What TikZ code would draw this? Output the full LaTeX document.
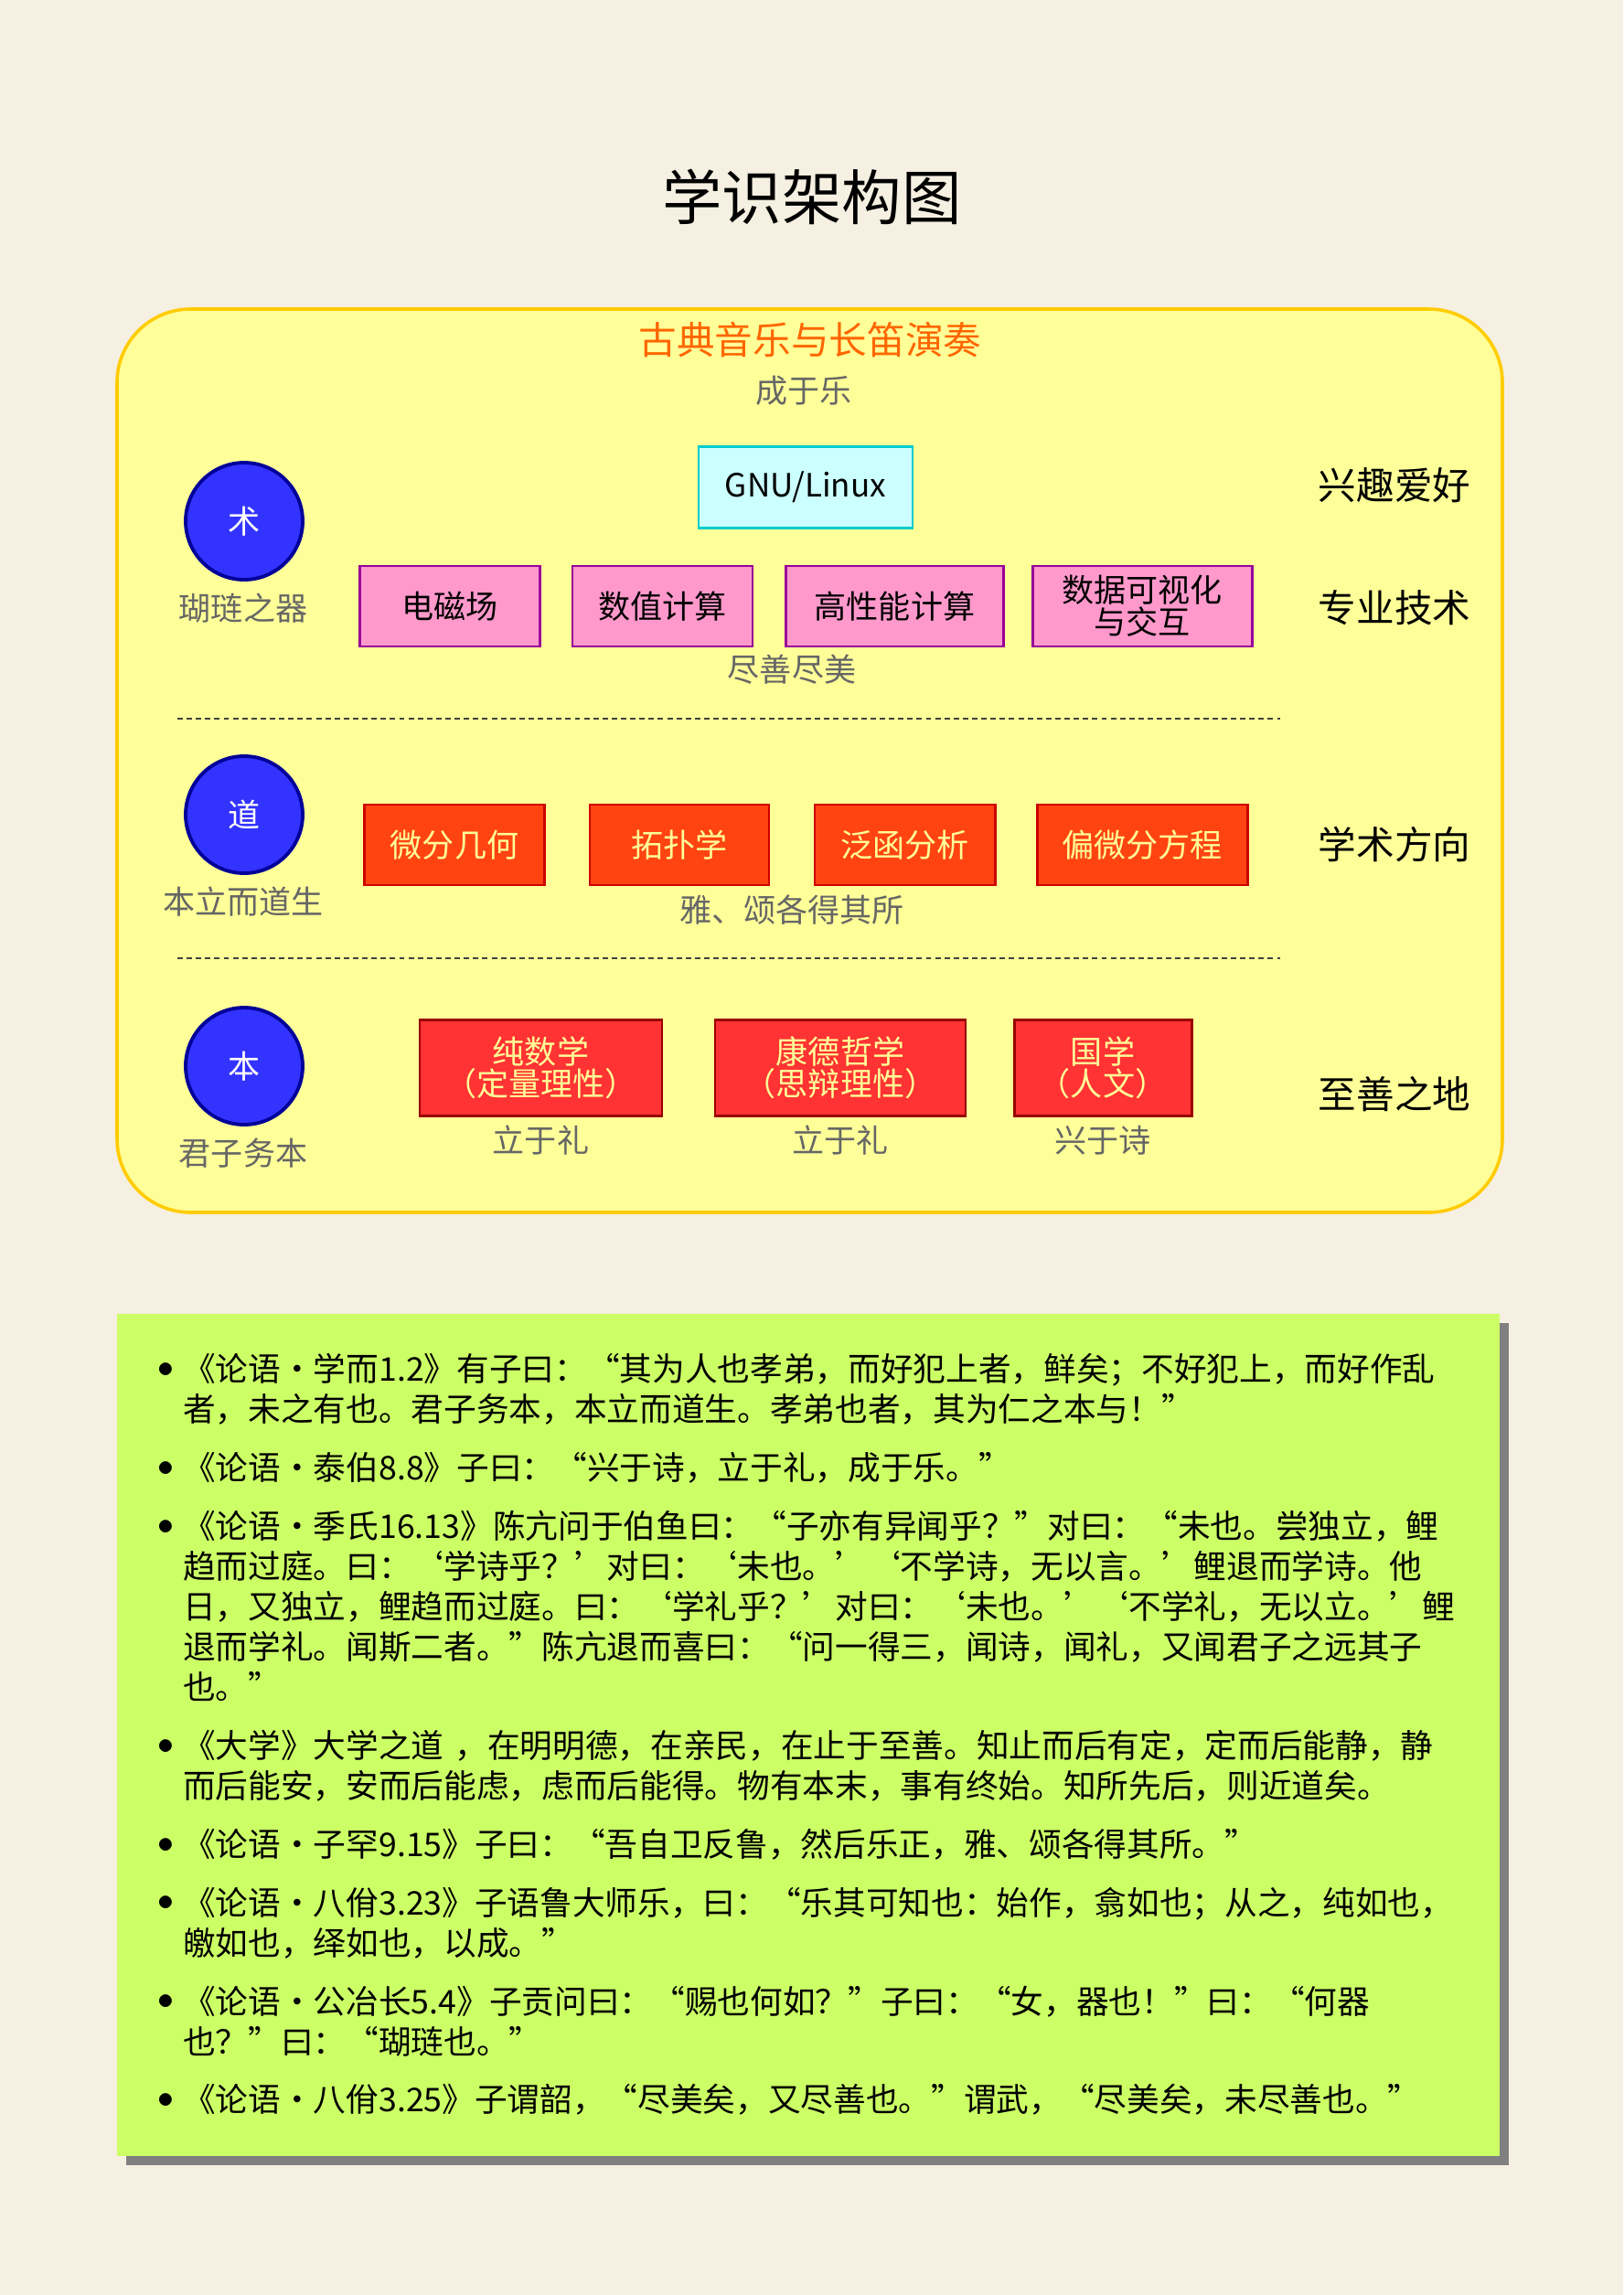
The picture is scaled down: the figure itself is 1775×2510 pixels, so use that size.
\documentclass[tikz,border=0pt]{standalone}
\usepackage{fontspec}
\setmainfont{Noto Sans CJK SC}
\XeTeXlinebreaklocale "zh"
\XeTeXlinebreakskip=0pt plus 1pt

\definecolor{paper}{HTML}{F5F0E1}
\definecolor{panel}{HTML}{FFFF99}
\definecolor{panelrim}{HTML}{FFCC00}
\definecolor{notebg}{HTML}{CCFF66}
\definecolor{dotblue}{HTML}{3333FF}
\definecolor{dotrim}{HTML}{000099}
\definecolor{pinkfill}{HTML}{FF99CC}
\definecolor{pinkrim}{HTML}{990099}
\definecolor{cyanfill}{HTML}{CCFFFF}
\definecolor{cyanrim}{HTML}{00CCCC}
\definecolor{orangefill}{HTML}{FF4411}
\definecolor{orangerim}{HTML}{CC0000}
\definecolor{redfill}{HTML}{FF3333}
\definecolor{redrim}{HTML}{990000}
\definecolor{boxtext}{HTML}{FFFF99}
\definecolor{notegray}{HTML}{666666}
\definecolor{headorange}{HTML}{FF6600}

\newcommand{\px}{0.011831cm}
\newcommand{\sz}[1]{\fontsize{#1}{#1}\selectfont}

\begin{document}
\begin{tikzpicture}[x=0.011831cm, y=-0.011831cm,
  every node/.style={inner sep=0pt},
  topicbox/.style={rectangle, draw, line width=1pt, minimum height=88*\px, align=center, font=\sz{11.8pt}},
  hobbybox/.style={topicbox, fill=cyanfill, draw=cyanrim},
  skillbox/.style={topicbox, fill=pinkfill, draw=pinkrim},
  fieldbox/.style={topicbox, fill=orangefill, draw=orangerim, text=boxtext},
  rootbox/.style={topicbox, fill=redfill, draw=redrim, text=boxtext, minimum height=105*\px},
  dot/.style={circle, fill=dotblue, draw=dotrim, line width=1.3pt, minimum size=128*\px, text=white, font=\sz{11.8pt}},
  note/.style={text=notegray, font=\sz{11.8pt}},
  tier/.style={font=\sz{14pt}},
  sep/.style={black!75, line width=0.4pt, dash pattern=on 2pt off 1.4pt}]

\useasboundingbox[fill=paper] (0,0) rectangle (1775,2510);

\node[font=\sz{22pt}] (title) at (888,215) {学识架构图};

% the yellow panel
\draw[panelrim, fill=panel, line width=1.2pt, rounded corners=0.95cm] (128,338) rectangle (1643,1326);
\node[tier, text=headorange] (music) at (886,372) {古典音乐与长笛演奏};
\node[note] (musicnote) at (879,427) {成于乐};

% levels on the left
\foreach \y/\c/\l [count=\i] in {570/术/瑚琏之器, 891/道/本立而道生, 1166/本/君子务本} {
  \node[dot] (level\i) at (267,\y) {\c};
  \node[note] (levelnote\i) at (266,\y+95) {\l};
}

% tiers on the right
\foreach \y/\l [count=\i] in {531/兴趣爱好, 665/专业技术, 924/学术方向, 1197/至善之地} {
  \node[tier] (tier\i) at (1525,\y) {\l};
}

\node[hobbybox, minimum width=234*\px, minimum height=89*\px] (gnu) at (881,533) {GNU/Linux};

\foreach \x/\w/\lbl [count=\i] in {492/197/电磁场, 724.5/197/数值计算, 978.5/238/高性能计算, 1249/240/{数据可视化\\与交互}} {
  \node[skillbox, minimum width=\w*\px] (skill\i) at (\x,663) {\lbl};
}
\node[note] (skillnote) at (866,732) {尽善尽美};

\draw[sep] (194,786) -- (1400,786);

\foreach \x/\w/\lbl [count=\i] in {497/197/微分几何, 743/196/拓扑学, 989.5/197/泛函分析, 1249/230/偏微分方程} {
  \node[fieldbox, minimum width=\w*\px] (field\i) at (\x,924) {\lbl};
}
\node[note] (fieldnote) at (866,995) {雅、颂各得其所};

\draw[sep] (194,1048) -- (1400,1048);

\foreach \x/\w/\lbl/\n [count=\i] in {591.5/265/{纯数学\\（定量理性）}/立于礼, 919/274/{康德哲学\\（思辩理性）}/立于礼, 1206/194/{国学\\（人文）}/兴于诗} {
  \node[rootbox, minimum width=\w*\px] (root\i) at (\x,1168) {\lbl};
  \node[note] (rootnote\i) at (\x,1247) {\n};
}

% the green sheet with its shadow
\fill[black!50] (138,1447) rectangle (1650,2368);
\fill[notebg] (128,1437) rectangle (1640,2358);

\node[text width=1440*\px, anchor=base west, align=left, font=\fontsize{12pt}{14.8pt}\selectfont] (analects) at (170,1443) {%
  \setlength{\leftmargini}{10pt}\setlength{\labelsep}{3.5pt}%
  \renewcommand{\labelitemi}{\raisebox{0.12em}{$\bullet$}}%
  \begin{itemize}\setlength{\itemsep}{6.7pt}\setlength{\parskip}{0pt}%
  \item 《论语·学而1.2》有子曰：“其为人也孝弟，而好犯上者，鲜矣；不好犯上，而好作乱\\者，未之有也。君子务本，本立而道生。孝弟也者，其为仁之本与！”
  \item 《论语·泰伯8.8》子曰：“兴于诗，立于礼，成于乐。”
  \item 《论语·季氏16.13》陈亢问于伯鱼曰：“子亦有异闻乎？”对曰：“未也。尝独立，鲤\\趋而过庭。曰：‘学诗乎？’对曰：‘未也。’‘不学诗，无以言。’鲤退而学诗。他\\日，又独立，鲤趋而过庭。曰：‘学礼乎？’对曰：‘未也。’‘不学礼，无以立。’鲤\\退而学礼。闻斯二者。”陈亢退而喜曰：“问一得三，闻诗，闻礼，又闻君子之远其子\\也。”
  \item 《大学》大学之道 ，在明明德，在亲民，在止于至善。知止而后有定，定而后能静，静\\而后能安，安而后能虑，虑而后能得。物有本末，事有终始。知所先后，则近道矣。
  \item 《论语·子罕9.15》子曰：“吾自卫反鲁，然后乐正，雅、颂各得其所。”
  \item 《论语·八佾3.23》子语鲁大师乐，曰：“乐其可知也：始作，翕如也；从之，纯如也，\\皦如也，绎如也，以成。”
  \item 《论语·公冶长5.4》子贡问曰：“赐也何如？”子曰：“女，器也！”曰：“何器\\也？”曰：“瑚琏也。”
  \item 《论语·八佾3.25》子谓韶，“尽美矣，又尽善也。”谓武，“尽美矣，未尽善也。”
  \end{itemize}};
\end{tikzpicture}
\end{document}
